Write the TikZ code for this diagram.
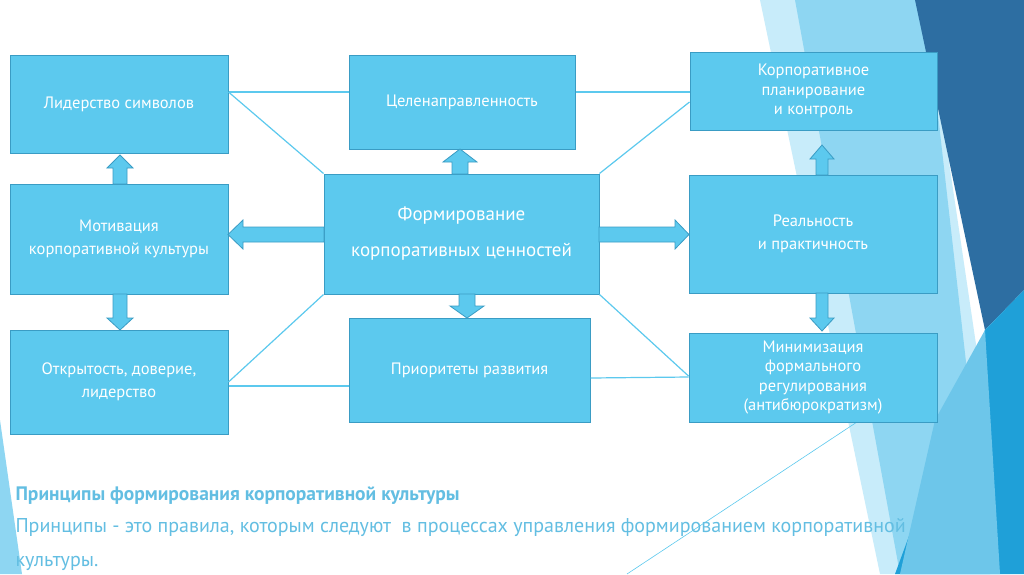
\documentclass[tikz,border=0pt]{standalone}
\usepackage{fontspec}
\setmainfont{PT Sans}
\usetikzlibrary{shapes.arrows}
\definecolor{boxfill}{HTML}{5CC9EE}
\definecolor{boxline}{HTML}{3A9CC4}
\definecolor{dark}{HTML}{2D6EA2}
\definecolor{mid}{HTML}{1FA0D8}
\definecolor{light}{HTML}{8ED6F2}
\definecolor{pale}{HTML}{C8ECFA}
\definecolor{txt}{HTML}{63BEE2}
\begin{document}
\begin{tikzpicture}[x=1pt,y=-1pt,
  box/.style={draw=boxline,line width=1pt,fill=boxfill,text=white,font=\fontsize{16.5}{19.5}\selectfont,align=center,inner sep=1pt},
  conn/.style={draw=boxfill,line width=1.2pt},
  blk/.style={draw=boxline,fill=boxfill,line width=0.8pt}]
\useasboundingbox (0,0) rectangle (1024,574);
\fill[white] (0,0) rectangle (1024,574);
% background decoration
\fill[pale] (760,0) -- (925,0) -- (1010,574) -- (880,574) -- cycle;
\fill[light] (795,0) -- (925,0) -- (990,574) -- (900,574) -- cycle;
\fill[dark] (915,0) -- (1024,0) -- (1024,290) -- (985,330) -- cycle;
\fill[mid] (985,330) -- (1024,290) -- (1024,574) -- (895,574) -- cycle;
\fill[light!70!mid] (935,420) -- (985,330) -- (1000,574) -- (900,574) -- cycle;
\fill[light] (0,420) -- (22,574) -- (0,574) -- cycle;
\draw[boxfill,line width=0.6pt] (860,420) -- (627,574);
% boxes
\node[box,minimum width=218pt,minimum height=98pt] (A) at (119,104) {Лидерство символов};
\node[box,minimum width=226pt,minimum height=94pt] (B) at (462,102) {Целенаправленность};
\node[box,minimum width=247pt,minimum height=78pt] (C) at (813.5,91) {Корпоративное\\планирование\\и контроль};
\node[box,minimum width=218pt,minimum height=110pt,font=\fontsize{16.5}{23}\selectfont] (D) at (119,239) {Мотивация\\корпоративной культуры};
\node[box,minimum width=275pt,minimum height=120pt,font=\fontsize{19}{36}\selectfont] (E) at (461.5,234) {Формирование\\корпоративных ценностей};
\node[box,minimum width=248pt,minimum height=118pt,font=\fontsize{16.5}{23}\selectfont] (F) at (813,234) {Реальность\\и практичность};
\node[box,minimum width=218pt,minimum height=104pt,font=\fontsize{16.5}{23}\selectfont] (G) at (119,382) {Открытость, доверие,\\лидерство};
\node[box,minimum width=241pt,minimum height=104pt] (H) at (469.5,370) {Приоритеты развития};
\node[box,minimum width=248pt,minimum height=89pt] (I) at (813,377.5) {Минимизация\\формального\\регулирования\\(антибюрократизм)};
% thin connectors
\draw[conn] (A.east |- 0,92) -- (B.west |- 0,92);
\draw[conn] (A.east |- 0,92) -- (E.north west);
\draw[conn] (B.east |- 0,92) -- (C.west |- 0,92);
\draw[conn] (E.north east) -- (C.west |- 0,102);
\draw[conn] (E.south west) -- (G.east |- 0,382);
\draw[conn] (G.east |- 0,386) -- (H.west |- 0,386);
\draw[conn] (E.south east) -- (I.west |- 0,376);
\draw[conn] (H.east |- 0,378) -- (I.west |- 0,377);
% block arrows
\draw[blk] (452,174) -- (452,162) -- (443,162) -- (460,149) -- (477,162) -- (468,162) -- (468,174) -- cycle;
\draw[blk] (459,294) -- (459,306) -- (450,306) -- (467,318) -- (484,306) -- (475,306) -- (475,294) -- cycle;
\draw[blk] (324,227) -- (243,227) -- (243,220) -- (228,234.5) -- (243,249) -- (243,242) -- (324,242) -- cycle;
\draw[blk] (599,227) -- (675,227) -- (675,220) -- (689,234.5) -- (675,249) -- (675,242) -- (599,242) -- cycle;
\draw[blk] (113,184) -- (113,168) -- (107,168) -- (120,155) -- (133,168) -- (127,168) -- (127,184) -- cycle;
\draw[blk] (113,294) -- (113,318) -- (107,318) -- (120,330) -- (133,318) -- (127,318) -- (127,294) -- cycle;
\draw[blk] (816,175) -- (816,159) -- (810,159) -- (822,145) -- (834,159) -- (828,159) -- (828,175) -- cycle;
\draw[blk] (816,293) -- (816,318) -- (810,318) -- (822,331) -- (834,318) -- (828,318) -- (828,293) -- cycle;
% bottom text
\node[anchor=west,text=txt,font=\bfseries\fontsize{19.5}{22}\selectfont] (t1) at (12,496) {Принципы формирования корпоративной культуры};
\node[anchor=west,text=txt,font=\fontsize{20}{23}\selectfont] (t2) at (12,528) {Принципы - это правила, которым следуют \ в процессах управления формированием корпоративной};
\node[anchor=west,text=txt,font=\fontsize{20}{23}\selectfont] (t3) at (12,563) {культуры.};
\end{tikzpicture}
\end{document}
